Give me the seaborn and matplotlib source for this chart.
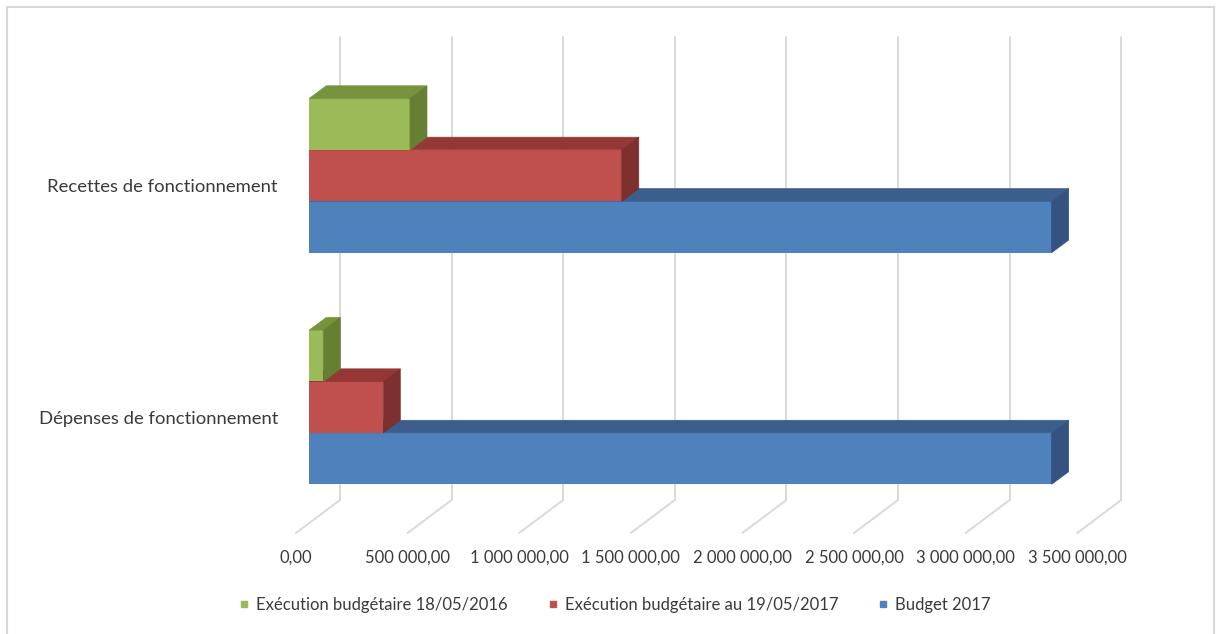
import matplotlib
matplotlib.use("Agg")
import matplotlib.pyplot as plt
import seaborn as sns
import pandas as pd
from matplotlib.patches import Polygon, Rectangle
from matplotlib.lines import Line2D
from matplotlib.transforms import ScaledTranslation, IdentityTransform

# ---- data ----
categories = ["Recettes de fonctionnement", "Dépenses de fonctionnement"]
series = ["Exécution budgétaire 18/05/2016",
          "Exécution budgétaire au 19/05/2017",
          "Budget 2017"]
exec_2016 = [451000, 62700]
exec_2017 = [1400000, 331500]
budget_2017 = [3326000, 3326000]
tick_values = [0, 500000, 1000000, 1500000, 2000000, 2500000, 3000000, 3500000]
tick_labels = ["0,00", "500 000,00", "1 000 000,00", "1 500 000,00",
               "2 000 000,00", "2 500 000,00", "3 000 000,00", "3 500 000,00"]

front_colors = ["#9BBB59", "#C0504D", "#4F81BD"]
top_colors = ["#77933C", "#953735", "#3B5E8C"]
side_colors = ["#667F33", "#7D302E", "#345380"]

df = pd.DataFrame({
    "catégorie": categories * 3,
    "série": [s for s in series for _ in categories],
    "montant": exec_2016 + exec_2017 + budget_2017,
})

sns.set_theme(style="white")
plt.rcParams["font.family"] = ["Lato", "DejaVu Sans"]
TEXT = "#3A3A3A"
GRID = "#D9D9D9"
FS = 12

W, H = 1216, 634
fig = plt.figure(figsize=(W / 100, H / 100), dpi=100)
fig.patch.set_facecolor("white")

# plot area = front plane of the bars (pixels)
left_px, right_px = 309.3, 1090.5
top_px, bottom_px = 59.7, 523.0
ax = fig.add_axes([left_px / W, 1 - bottom_px / H,
                   (right_px - left_px) / W, (bottom_px - top_px) / H])
ax.patch.set_alpha(0)

sns.barplot(data=df, y="catégorie", x="montant", hue="série",
            order=categories, hue_order=series, palette=front_colors,
            saturation=1, width=0.666, orient="h", linewidth=0,
            errorbar=None, legend=False, ax=ax)
ax.set_xlim(0, 3500000)
ax.set_ylim(1.5, -0.5)
for sp in ax.spines.values():
    sp.set_visible(False)
ax.set_xlabel("")
ax.set_ylabel("")
ax.grid(False)

# oblique depth offsets (display pixels, y up)
WALL = (30.7, 23.0)     # back wall relative to bar front plane
DEPTH = (17.0, 12.6)    # bar thickness in depth
FLOOR = (-13.3, -10.0)  # front edge of the floor

ident = IdentityTransform()
y_floor = ax.transAxes.transform((0, 0))[1]
y_top = ax.transAxes.transform((0, 1))[1]

# back-wall gridlines and floor lines
for v in tick_values:
    X = ax.transData.transform((v, 0))[0]
    fig.add_artist(Line2D([X + WALL[0], X + WALL[0]],
                          [y_floor + WALL[1], y_top + WALL[1]],
                          color=GRID, lw=1.4, transform=ident, zorder=-1))
    fig.add_artist(Line2D([X + WALL[0], X + FLOOR[0]],
                          [y_floor + WALL[1], y_floor + FLOOR[1]],
                          color=GRID, lw=1.4, transform=ident, zorder=-1))

# 3-D faces of each bar: top and right side
for i, cont in enumerate(ax.containers):
    z = 5 - i
    for rect in cont:
        rect.set_zorder(z)
        x0, y0 = rect.get_x(), rect.get_y()
        x1, y1 = x0 + rect.get_width(), y0 + rect.get_height()
        (X0, Ya), (X1, Yb) = ax.transData.transform([(x0, y0), (x1, y1)])
        Yt, Yb2 = max(Ya, Yb), min(Ya, Yb)
        dx, dy = DEPTH
        top = Polygon([(X0, Yt), (X1, Yt), (X1 + dx, Yt + dy), (X0 + dx, Yt + dy)],
                      closed=True, facecolor=top_colors[i], edgecolor=top_colors[i],
                      lw=0.5, transform=ident, zorder=z, clip_on=False)
        side = Polygon([(X1, Yb2), (X1, Yt), (X1 + dx, Yt + dy), (X1 + dx, Yb2 + dy)],
                       closed=True, facecolor=side_colors[i], edgecolor=side_colors[i],
                       lw=0.5, transform=ident, zorder=z, clip_on=False)
        ax.add_artist(top)
        ax.add_artist(side)

# tick labels sit on the front edge of the floor
shift = ScaledTranslation(FLOOR[0] / 100, FLOOR[1] / 100, fig.dpi_scale_trans)
ax.set_xticks(tick_values, tick_labels)
ax.tick_params(axis="x", length=0, pad=12, labelsize=FS, labelcolor=TEXT)
ax.tick_params(axis="y", length=0, pad=13, labelsize=13.3, labelcolor=TEXT)
for lab in ax.get_xticklabels() + ax.get_yticklabels():
    lab.set_transform(lab.get_transform() + shift)

# legend
handles = [Line2D([], [], marker="s", linestyle="none", markersize=5,
                  markerfacecolor=c, markeredgecolor=c) for c in front_colors]
fig.legend(handles, series, loc="center", bbox_to_anchor=(615 / W, 1 - 605 / H),
           ncol=3, frameon=False, fontsize=FS, labelcolor=TEXT,
           handlelength=0.55, handletextpad=0.45, columnspacing=2.4)

# chart-area border
fig.add_artist(Rectangle((6.7 / W, -0.02), (1214 - 6.7) / W, 1.02 - 6.7 / H,
                         fill=False, edgecolor=GRID, lw=1.5,
                         transform=fig.transFigure, zorder=-2))

fig.savefig("out.png", dpi=100)
